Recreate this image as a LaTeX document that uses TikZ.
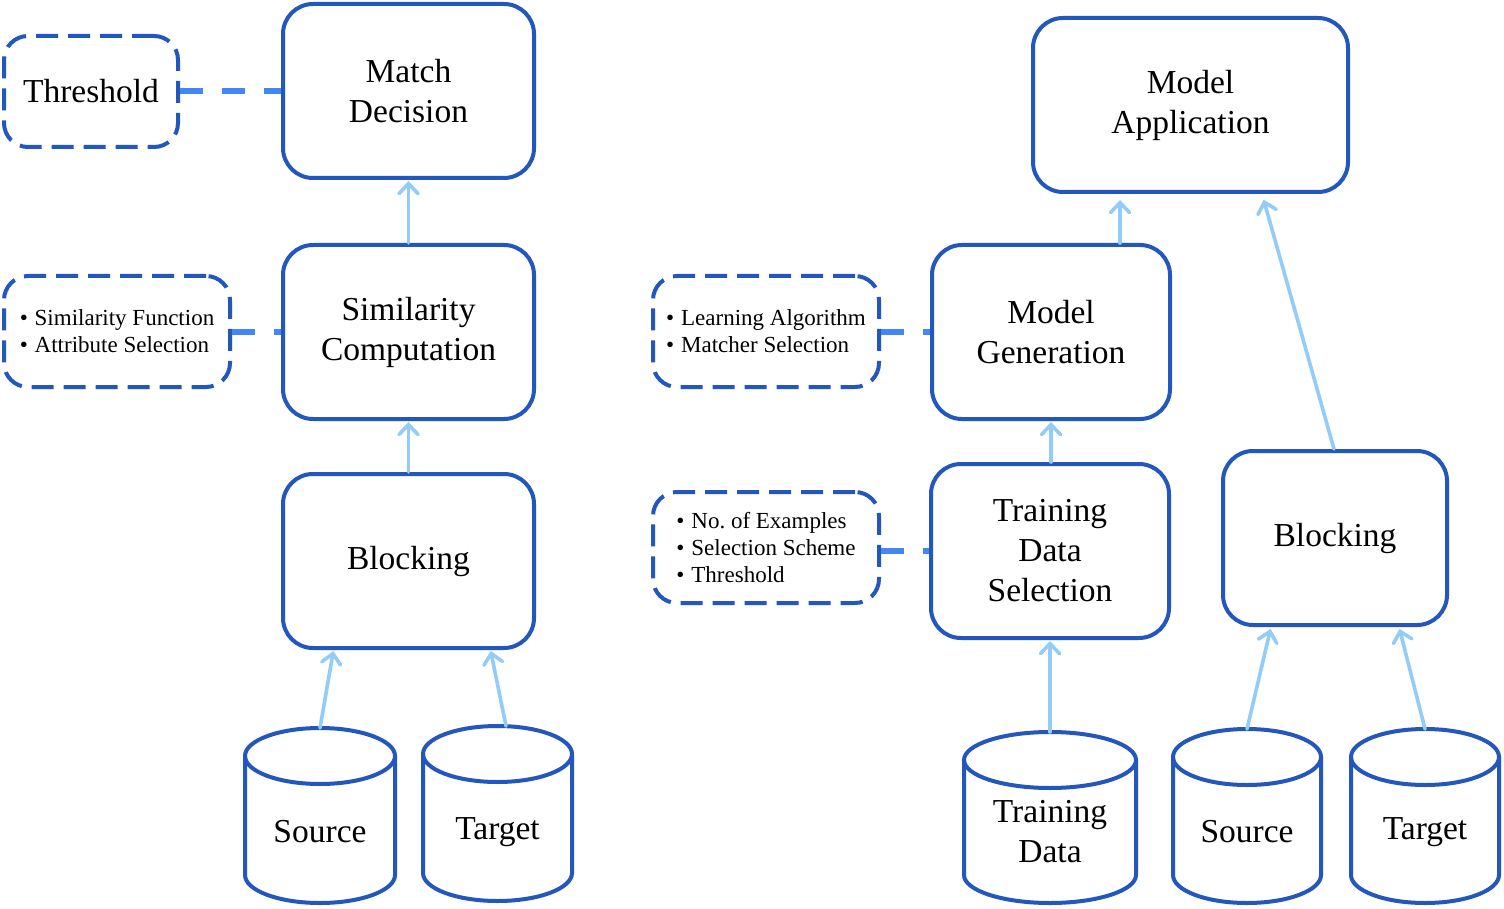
\documentclass[tikz,border=0pt]{standalone}
\usepackage{fontspec}
\setmainfont{Liberation Serif}
\usetikzlibrary{arrows.meta}
\definecolor{boxblue}{HTML}{2357BD}
\definecolor{dashblue}{HTML}{4287F5}
\definecolor{arrowblue}{HTML}{93CBF9}
\newcommand\dbcyl[6]{% name, cx, top, bottom, rx, ry
  \draw[cylst] ({#2-#5},{-(#3+#6)}) -- ({#2-#5},{-(#4-#6)})
     arc[start angle=180,end angle=360,x radius=#5pt,y radius=#6pt] -- ({#2+#5},{-(#3+#6)});
  \draw[cylst] ({#2},{-(#3+#6)}) ellipse[x radius=#5pt,y radius=#6pt];
  \node[inner sep=0pt,outer sep=0pt,minimum width={2*#5pt},minimum height={(#4-#3)*1pt}] (#1) at ({#2},{-(#3+#4)/2}) {};
}
\newcommand\bl{\textbullet\hspace{0.3em}}
\tikzset{
  mainbox/.style={draw=boxblue,line width=4pt,rounded corners=30pt,align=center,inner sep=0pt,
    font=\fontsize{33.5}{40}\selectfont},
  optbox/.style={draw=boxblue,line width=4pt,rounded corners=24pt,dash pattern=on 22pt off 10pt,
    align=left,inner sep=0pt,font=\fontsize{23}{27}\selectfont\frenchspacing},
  bigopt/.style={optbox,font=\fontsize{33.5}{40}\selectfont},
  cylst/.style={draw=boxblue,line width=4pt},
  cyltext/.style={align=center,font=\fontsize{33.5}{40}\selectfont},
  dconn/.style={draw=dashblue,line width=6pt,dash pattern=on 23pt off 19pt},
  arr/.style={draw=arrowblue,line width=3.6pt,line cap=round,
    -{Straight Barb[length=10pt,width=19pt,line cap=round]}},
}
\begin{document}
\begin{tikzpicture}[x=1pt,y=1pt]
\useasboundingbox (0,0) rectangle (1504,-909);
% left pipeline
\node[mainbox,minimum width=251pt,minimum height=174pt] (match) at (408.5,-91) {Match\\Decision};
\node[mainbox,minimum width=251pt,minimum height=174pt] (simc) at (408.5,-332) {Similarity\\Computation};
\node[mainbox,minimum width=251pt,minimum height=174pt] (blkL) at (408.5,-561) {Blocking};
\node[bigopt,minimum width=174pt,minimum height=111pt,align=center] (thr) at (91,-91.5) {Threshold};
\node[optbox,minimum width=226pt,minimum height=111pt] (simf) at (117,-331.5)
  {\bl Similarity Function\\\bl Attribute Selection};
\dbcyl{srcL}{320}{728}{903}{75}{28}
\dbcyl{tgtL}{497.5}{726}{901}{74.5}{28}
\node[cyltext] (srcLt) at (320,-832) {Source};
\node[cyltext] (tgtLt) at (497.5,-832) {Target};
% right pipeline
\node[mainbox,minimum width=315pt,minimum height=174pt] (mapp) at (1190.5,-105) {Model\\Application};
\node[mainbox,minimum width=238pt,minimum height=174pt] (mgen) at (1051,-332) {Model\\Generation};
\node[mainbox,minimum width=238pt,minimum height=174pt] (tds) at (1050,-551) {Training\\Data\\Selection};
\node[mainbox,minimum width=224pt,minimum height=174pt] (blkR) at (1335,-538) {Blocking};
\node[optbox,minimum width=226pt,minimum height=111pt] (learn) at (766,-331.5)
  {\bl Learning Algorithm\\\bl Matcher Selection};
\node[optbox,minimum width=226pt,minimum height=111pt] (nex) at (766,-547.5)
  {\bl No. of Examples\\\bl Selection Scheme\\\bl Threshold};
\dbcyl{tdat}{1050}{732}{903}{86}{28}
\dbcyl{srcR}{1247}{729}{903}{74}{28}
\dbcyl{tgtR}{1425}{729}{903}{74}{28}
\node[cyltext] (tdatt) at (1050,-832) {Training\\Data};
\node[cyltext] (srcRt) at (1247,-832) {Source};
\node[cyltext] (tgtRt) at (1425,-832) {Target};
% dashed connectors
\draw[dconn] (thr.east |- match.west) -- (match.west);
\draw[dconn] (simf.east |- simc.west) -- (simc.west);
\draw[dconn] (learn.east |- mgen.west) -- (mgen.west);
\draw[dconn] (nex.east |- tds.west) -- (tds.west);
% arrows
\draw[arr,shorten >=1pt] (simc.north) -- (match.south);
\draw[arr,shorten >=1pt] (blkL.north) -- (simc.south);
\draw[arr,shorten >=1pt] (srcL.north) -- ([xshift=-75pt]blkL.south);
\draw[arr,shorten >=1pt] ([xshift=8.5pt]tgtL.north) -- ([xshift=82pt]blkL.south);
\draw[arr,shorten >=1pt] (tdat.north) -- (tds.south);
\draw[arr,shorten >=1pt] ([xshift=1pt]tds.north) -- (mgen.south);
\draw[arr,shorten >=6pt] ([xshift=69pt]mgen.north) -- ([xshift=-70.5pt]mapp.south);
\draw[arr,shorten >=6pt] ([xshift=-1pt]blkR.north) -- ([xshift=71.5pt]mapp.south);
\draw[arr,shorten >=2pt] (srcR.north) -- ([xshift=-64pt]blkR.south);
\draw[arr,shorten >=2pt] (tgtR.north) -- ([xshift=64pt]blkR.south);
\end{tikzpicture}
\end{document}
